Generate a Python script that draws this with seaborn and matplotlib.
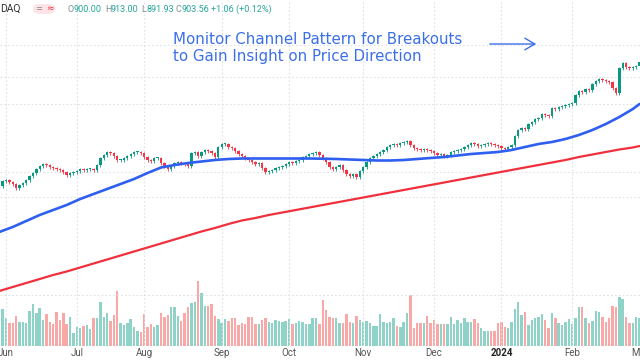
import matplotlib
matplotlib.use("Agg")
import matplotlib.pyplot as plt
import matplotlib.transforms as mtransforms
import seaborn as sns
import numpy as np
import pandas as pd
from matplotlib.patches import FancyBboxPatch

# ---------------- data ----------------
closes = [780, 785, 786, 784, 782, 778, 781, 783, 786, 790,
          793, 797, 800, 802, 801, 799, 798, 797, 796, 794,
          791, 793, 794, 795, 797, 796, 797, 797, 796, 801,
          808, 811, 814, 813, 810, 806, 806, 808, 810, 812,
          814, 814, 813, 809, 806, 805, 808, 808, 803, 800,
          797, 800, 803, 804, 803, 802, 800, 813, 814, 810,
          814, 816, 815, 813, 809, 819, 822, 822, 819, 818,
          815, 812, 810, 808, 806, 804, 802, 803, 798, 794,
          795, 796, 798, 799, 800, 802, 804, 803, 805, 806,
          809, 810, 812, 813, 814, 811, 808, 804, 799, 797,
          799, 801, 796, 792, 790, 792, 789, 795, 799, 804,
          808, 810, 812, 814, 816, 819, 821, 822, 821, 823,
          824, 825, 821, 818, 817, 816, 817, 816, 815, 813,
          811, 812, 810, 811, 814, 815, 816, 817, 819, 821,
          823, 822, 820, 821, 822, 823, 822, 821, 820, 818,
          817, 819, 821, 830, 836, 838, 837, 842, 844, 847,
          848, 852, 851, 850, 858, 857, 859, 860, 861, 862,
          863, 871, 875, 874, 877, 876, 882, 885, 887, 886,
          885, 884, 878, 873, 898, 903, 899, 898, 899, 900,
          904]
first_open = 785

volumes = [55, 37, 28, 23, 23, 30, 24, 24, 23, 35,
           42, 33, 38, 26, 32, 24, 22, 34, 26, 33,
           22, 29, 13, 19, 18, 20, 21, 17, 28, 28,
           44, 29, 33, 25, 31, 55, 23, 21, 23, 27,
           19, 15, 14, 32, 19, 22, 19, 21, 33, 29,
           31, 39, 39, 30, 25, 33, 39, 43, 44, 65,
           53, 40, 40, 42, 30, 27, 23, 27, 25, 28,
           28, 21, 23, 22, 29, 29, 22, 22, 26, 28,
           24, 23, 26, 25, 24, 25, 27, 22, 23, 25,
           24, 22, 22, 28, 28, 22, 46, 36, 29, 28,
           28, 23, 23, 32, 24, 23, 30, 26, 24, 25,
           23, 20, 20, 32, 24, 23, 24, 28, 20, 19,
           24, 33, 51, 18, 23, 23, 23, 30, 23, 26,
           22, 22, 22, 22, 29, 22, 26, 23, 28, 24,
           24, 27, 23, 18, 15, 15, 15, 15, 23, 24,
           19, 18, 24, 37, 44, 31, 34, 21, 26, 28,
           29, 32, 26, 18, 33, 28, 23, 21, 24, 27,
           22, 28, 39, 39, 28, 23, 25, 35, 34, 29,
           24, 28, 40, 39, 49, 47, 29, 23, 23, 29,
           28]

ma_idx = [0, 4, 8, 12, 16, 20, 24, 28, 32, 36, 40, 44, 48, 52, 56, 60,
          64, 68, 72, 76, 80, 84, 88, 92, 96, 100, 104, 108, 112, 116,
          120, 124, 128, 132, 136, 140, 144, 148, 152, 156, 160, 164,
          168, 172, 176, 180, 184, 188, 190]
ma50 = [734, 739, 745, 751, 756, 761, 767, 772, 777, 782, 787, 793,
        798.5, 801, 803, 804.5, 806, 807, 807.5, 807.5, 807.5, 807.5,
        807.5, 807.5, 807.3, 807, 806.5, 806, 805.5, 805.5, 806, 807,
        808, 809, 810.5, 812, 813, 814, 816, 819, 822, 824, 827, 831,
        836, 842, 849, 857, 862]
ma200 = [675, 679, 683, 687, 691, 694.5, 698.5, 702.5, 706.5, 710.5,
         714.5, 718.5, 722.5, 726.5, 730.5, 734.5, 738, 742, 745.5, 748,
         751, 753.5, 756, 758.5, 761, 763.5, 766, 768.5, 771, 773.5, 776,
         778.5, 781, 783.5, 786, 788.5, 791, 793.5, 796, 798.5, 801,
         803.5, 806, 809, 811.5, 814, 816.5, 818.5, 820]

month_labels = ["Jun", "Jul", "Aug", "Sep", "Oct", "Nov", "Dec", "2024", "Feb", "Mar"]
month_pos = [2, 23, 43, 66, 86, 108, 129, 149, 170, 190]
grid_prices = [921, 889, 862, 794, 769, 671]

ticker = "DAQ"
ohlc_labels = ["O", "H", "L", "C"]
ohlc_values = ["900.00", "913.00", "891.93", "903.56"]
change_text = "+1.06 (+0.12%)"
note = "Monitor Channel Pattern for Breakouts\nto Gain Insight on Price Direction"

# ---------------- styling ----------------
UP = "#089981"
DOWN = "#f23645"
UP_VOL = "#8fd3c8"
DOWN_VOL = "#f8a8a6"
BLUE = "#2f5ff0"
RED = "#f0303c"
NOTE = "#3b6fe8"
GRID = "#dde1e8"

sns.set_theme(style="white")
plt.rcParams['font.family'] = ['DejaVu Sans']

W, H = 640, 360
fig = plt.figure(figsize=(6.4, 3.6), dpi=100)
fig.patch.set_facecolor("white")

ax = fig.add_axes([0, 14 / H, 1, 346 / H])
axv = ax.twinx()
ax.set_zorder(axv.get_zorder() + 1)
ax.patch.set_visible(False)

x = np.arange(len(closes))
c = np.array(closes, dtype=float)
o = np.concatenate([[first_open], c[:-1]])
up = c >= o

# volume
axv.bar(x, volumes, width=0.72,
        color=[UP_VOL if u else DOWN_VOL for u in up], linewidth=0, zorder=1)
axv.set_ylim(0, 346)
axv.set_yticks([])

# gridlines
for gp in grid_prices:
    ax.axhline(gp, color=GRID, lw=0.8, ls=(0, (1.5, 2)), zorder=0)
for mp in month_pos:
    ax.axvline(mp, color=GRID, lw=0.8, ls=(0, (1.5, 2)), zorder=0)

# candles
lo = np.minimum(o, c)
hi = np.maximum(o, c)
body = np.maximum(hi - lo, 0.8)
cols = [UP if u else DOWN for u in up]
ax.vlines(x, lo - 1.5, hi + 1.5, colors=cols, lw=0.6, zorder=3)
ax.bar(x, body, bottom=lo, width=0.7, color=cols, linewidth=0, zorder=4)

# moving averages
ma = pd.DataFrame({"idx": ma_idx, "ma50": ma50, "ma200": ma200})
sns.lineplot(data=ma, x="idx", y="ma50", ax=ax, color=BLUE, lw=1.9, zorder=5)
sns.lineplot(data=ma, x="idx", y="ma200", ax=ax, color=RED, lw=1.6, zorder=5)

ax.set_xlim(0.22, 190.13)
ax.set_ylim(620, 966)
ax.set_yticks([])
ax.set_xticks(month_pos)
ax.set_xticklabels(month_labels, fontsize=7, color="#555555",
                   family=["Roboto", "DejaVu Sans"])
for lbl in ax.get_xticklabels():
    if lbl.get_text() == "2024":
        lbl.set_fontweight("bold")
        lbl.set_color("#222222")
    if lbl.get_text() == "Jun":
        lbl.set_transform(lbl.get_transform() +
                          mtransforms.ScaledTranslation(1.5 / 100, 0, fig.dpi_scale_trans))
ax.tick_params(axis="x", length=0, pad=1.5)
for a in (ax, axv):
    for s in a.spines.values():
        s.set_visible(False)
ax.set_xlabel("")
ax.set_ylabel("")

# header
def fx(px):
    return px / W

def fy(py):
    return 1 - py / H

HF = ["Roboto", "DejaVu Sans"]
fig.text(fx(0), fy(9), ticker, fontsize=7.5, color="#333333", va="center",
         ha="left", family=HF)
pill = FancyBboxPatch((fx(33), fy(14)), fx(22), 10 / H,
                      boxstyle="round,pad=0,rounding_size=0.012",
                      transform=fig.transFigure, facecolor="#fde4e6",
                      edgecolor="none")
fig.patches.append(pill)
fig.text(fx(39), fy(9), "=", fontsize=6, color="#888888", va="center", ha="center")
fig.text(fx(50), fy(9), "≈", fontsize=6.5, color=DOWN, va="center", ha="center")
label_x = [68, 105, 141, 176]
for lx, lab, val in zip(label_x, ohlc_labels, ohlc_values):
    fig.text(fx(lx), fy(9), lab, fontsize=6.5, color="#7f8c8d", va="center",
             ha="left", family=HF)
    fig.text(fx(lx + 5.5), fy(9), val, fontsize=6.5, color="#26a69a", va="center",
             ha="left", family=HF)
fig.text(fx(211), fy(9), change_text, fontsize=6.5, color="#26a69a", va="center",
         ha="left", family=HF)

# annotation
fig.text(fx(173), fy(48), note, fontsize=10.8, color=NOTE, va="center", ha="left",
         linespacing=1.1)
ax.annotate("", xy=(fx(539), fy(44)), xytext=(fx(487), fy(44)),
            xycoords="figure fraction", textcoords="figure fraction",
            arrowprops=dict(arrowstyle="->,head_length=0.6,head_width=0.35",
                            color=NOTE, lw=1.0))

fig.savefig("out.png", dpi=100, facecolor="white")
